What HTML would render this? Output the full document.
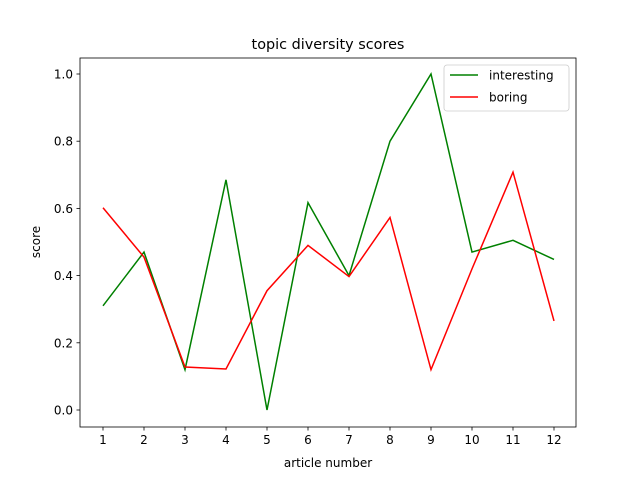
<!DOCTYPE html>
<html><head><meta charset="utf-8"><style>
body{margin:0;background:#fff}
svg text{font-family:"DejaVu Sans","Liberation Sans",sans-serif;fill:#000}
</style></head><body>
<svg id="c" width="640" height="480"></svg>
<script>
const categories=[1,2,3,4,5,6,7,8,9,10,11,12];
const interesting=[0.31,0.47,0.12,0.685,0.0,0.617,0.40,0.80,1.0,0.47,0.505,0.448];
const boring=[0.602,0.455,0.128,0.122,0.355,0.49,0.397,0.573,0.12,0.42,0.708,0.265];
const yTicks=[0.0,0.2,0.4,0.6,0.8,1.0];
const NS="http://www.w3.org/2000/svg";
const svg=document.getElementById('c');
function el(t,a,p){const e=document.createElementNS(NS,t);for(const k in a)e.setAttribute(k,a[k]);(p||svg).appendChild(e);return e;}
const L=80,R=576,T=58,B=427;
function x(v){return 103+(v-1)*41;}
function y(v){return 410-v*336;}
const frame=el('rect',{x:L,y:T,width:R-L,height:B-T,fill:'none',stroke:'#000','stroke-width':0.8});


categories.forEach(c=>{
  const t=el('line',{x1:x(c),x2:x(c),y1:B,y2:B+3.5,stroke:'#000','stroke-width':0.8});
  
  
  const l=el('text',{x:x(c),y:B+17,'font-size':12,'text-anchor':'middle'});l.textContent=c;
  
  
});
yTicks.forEach(v=>{
  const t=el('line',{x1:L-3.5,x2:L,y1:y(v),y2:y(v),stroke:'#000','stroke-width':0.8});
  
  
  const l=el('text',{x:L-7,y:y(v)+4.5,'font-size':12,'text-anchor':'end'});l.textContent=v.toFixed(1);
  
  
});
function series(vals,color,name){
  const p=el('polyline',{points:vals.map((v,i)=>x(categories[i])+','+y(v)).join(' '),fill:'none',stroke:color,'stroke-width':1.5});
  
  
}
series(interesting,'green','interesting-line');
series(boring,'red','boring-line');
const tt=el('text',{x:328,y:49,'font-size':14.4,'text-anchor':'middle'});tt.textContent='topic diversity scores';


const xt=el('text',{x:328,y:467,'font-size':12,'text-anchor':'middle'});xt.textContent='article number';


const yt=el('text',{x:0,y:0,'font-size':12,'text-anchor':'middle',transform:'translate(40,242) rotate(-90)'});yt.textContent='score';


const lg=el('g',{});


el('rect',{x:444,y:65,width:125,height:46,rx:3,fill:'#fff',stroke:'#ccc','stroke-width':0.8},lg);
[['interesting','green',75],['boring','red',97]].forEach(([n,c,yy])=>{
  const e=el('g',{},lg);
  
  
  el('line',{x1:450,x2:478,y1:yy,y2:yy,stroke:c,'stroke-width':1.5},e);
  const t=el('text',{x:489,y:yy+4.5,'font-size':12},e);t.textContent=n;
});
</script>
</body></html>
